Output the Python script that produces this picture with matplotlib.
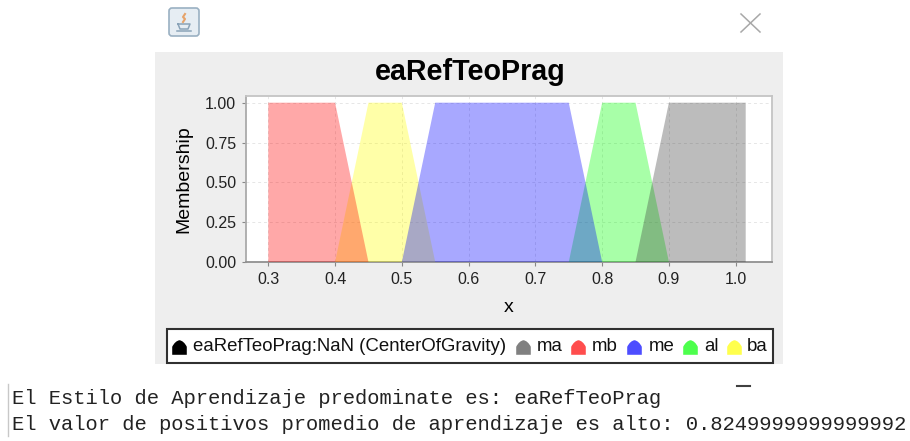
"""
Fuzzy membership chart (jFuzzyLogic window) with console output below
"""

import matplotlib
matplotlib.use('Agg')
import matplotlib.pyplot as plt
from matplotlib.patches import FancyBboxPatch, Rectangle
from matplotlib.path import Path

# -------------------- DATA --------------------
TITLE = "eaRefTeoPrag"
# listed in drawing order, later terms sit on top
TERMS = ['ba', 'al', 'me', 'mb', 'ma']
TERM_X = [
    [0.40, 0.45, 0.50, 0.55],
    [0.75, 0.80, 0.85, 0.90],
    [0.50, 0.55, 0.75, 0.80],
    [0.30, 0.30, 0.40, 0.45],
    [0.85, 0.90, 1.015, 1.015],
]
TERM_Y = [0, 1, 1, 0]
XTICKS = [0.3, 0.4, 0.5, 0.6, 0.7, 0.8, 0.9, 1.0]
YTICKS = [0.0, 0.25, 0.5, 0.75, 1.0]
LEGEND_LABELS = ['eaRefTeoPrag:NaN (CenterOfGravity)', 'ma', 'mb', 'me', 'al', 'ba']
CONSOLE_LINES = [
    "El Estilo de Aprendizaje predominate es: eaRefTeoPrag",
    "El valor de positivos promedio de aprendizaje es alto: 0.8249999999999992",
]

# -------------------- STYLE --------------------
W, H = 910, 441
FILL = {'mb': (1, 0, 0), 'ba': (1, 1, 0), 'me': (0, 0, 1), 'al': (0, 1, 0), 'ma': (0.23, 0.23, 0.23)}
ALPHA = 0.34
LEGEND_COLORS = ['#000000', '#808080', '#ff4d4d', '#4d4dff', '#4dff4d', '#ffff4d']
LEGEND_SWATCH_X = [179, 523, 578, 634, 690, 734]
LEGEND_TEXT_X = [193, 537, 592, 649, 704, 747]
DOME = Path([(-1, -1), (-1, 0.1), (-0.6, 0.9), (0, 1), (0.6, 0.9), (1, 0.1), (1, -1), (-1, -1)],
            [Path.MOVETO, Path.LINETO, Path.CURVE3, Path.CURVE3, Path.CURVE3, Path.CURVE3, Path.LINETO, Path.CLOSEPOLY])
SANS = 'Liberation Sans'

fig = plt.figure(figsize=(W / 100, H / 100), dpi=100, facecolor='white')

# background layer in pixel coordinates (window, legend box, console)
bg = fig.add_axes([0, 0, 1, 1])
bg.set_xlim(0, W)
bg.set_ylim(H, 0)
bg.axis('off')

bg.add_patch(Rectangle((155, 52), 628, 312, facecolor='#eeeeee', edgecolor='none'))

# java icon button
bg.add_patch(FancyBboxPatch((169, 8), 30, 28, boxstyle='round,pad=0,rounding_size=3',
                            facecolor='#e6edf3', edgecolor='#9ab0c2', lw=1.2))
bg.plot([178, 190, 188, 180, 178], [24, 24, 29, 29, 24], color='#8aa3b8', lw=1.1)
bg.plot([177, 191], [31, 31], color='#8aa3b8', lw=1.1)
bg.plot([183, 185, 183, 185], [22, 19, 17, 14], color='#e6a36a', lw=1.5)

# close cross
bg.plot([741, 760], [14, 32], color='#a8a8a8', lw=1.1)
bg.plot([760, 741], [14, 32], color='#a8a8a8', lw=1.1)

bg.text(470.5, 72, TITLE, family=SANS, weight='bold', fontsize=20.6, ha='center', va='center', color='black')

# legend box
bg.add_patch(Rectangle((167, 329), 606, 34, facecolor='white', edgecolor='#303030', lw=1.5))
for label, color, sx, tx in zip(LEGEND_LABELS, LEGEND_COLORS, LEGEND_SWATCH_X, LEGEND_TEXT_X):
    bg.plot([sx], [347], marker=DOME, ms=10.5, color=color, mew=0, ls='none')
    bg.text(tx, 346.5, label, family=SANS, fontsize=13.4, ha='left', va='center', color='#111111')

# console output
bg.plot([8, 8], [384, 436], color='#c8c8c8', lw=1)
bg.plot([737, 750], [386, 386], color='#404040', lw=1.5)
for line, y in zip(CONSOLE_LINES, [399, 424]):
    bg.text(12, y, line, family='Liberation Mono', fontsize=14.8, ha='left', va='center', color='#222222')

# -------------------- CHART --------------------
left, right, top, bottom = 246, 772, 96, 262
ax = fig.add_axes([left / W, 1 - bottom / H, (right - left) / W, (bottom - top) / H])
ax.set_facecolor('white')

for term, xs in zip(TERMS, TERM_X):
    ax.fill(xs, TERM_Y, color=FILL[term], alpha=ALPHA, lw=0, zorder=3)

ax.set_xlim(0.2666, 1.0544)
ax.set_ylim(0, 1.042)
ax.set_xticks(XTICKS, [f'{v:.1f}' for v in XTICKS])
ax.set_yticks(YTICKS, [f'{v:.2f}' for v in YTICKS])
ax.grid(True, color='#e6e6e6', ls=(0, (3, 3)), lw=0.7, zorder=1)
ax.set_axisbelow(True)
ax.tick_params(labelsize=11.5, colors='#222222', length=3, width=0.8, color='#888888', pad=4)
for lab in ax.get_xticklabels() + ax.get_yticklabels():
    lab.set_family(SANS)
ax.set_xlabel('x', family=SANS, fontsize=14, labelpad=9)
ax.set_ylabel('Membership', family=SANS, fontsize=14, labelpad=9)
for side in ax.spines:
    ax.spines[side].set_color('#c4c4c4')
    ax.spines[side].set_linewidth(1.3)
ax.spines['left'].set_color('#aaaaaa')
ax.spines['bottom'].set_color('#909090')

fig.savefig('out.png', dpi=100, facecolor='white')
